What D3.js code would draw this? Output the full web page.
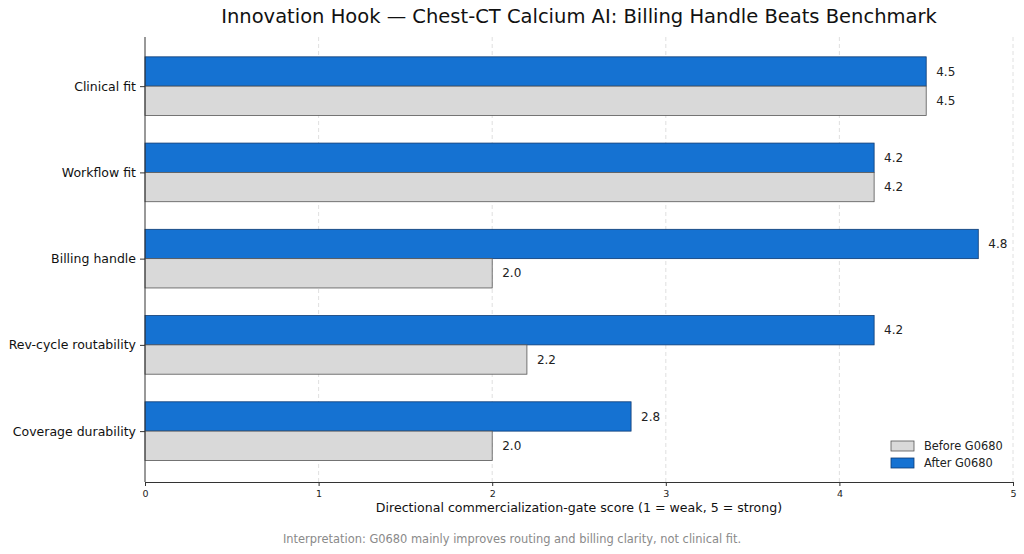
<!DOCTYPE html>
<html><head><meta charset="utf-8">
<script src="https://cdn.jsdelivr.net/npm/d3@7"></script>
<style>body{margin:0;background:#fff;} svg{display:block;font-family:"DejaVu Sans",sans-serif;}</style>
</head><body>
<svg id="c" width="1024" height="554"></svg>
<script>
const categories = ["Clinical fit","Workflow fit","Billing handle","Rev-cycle routability","Coverage durability"];
const before = [4.5, 4.2, 2.0, 2.2, 2.0];
const after = [4.5, 4.2, 4.8, 4.2, 2.8];
const xTicks = [0,1,2,3,4,5];
const seriesNames = ["Before G0680","After G0680"];
const colors = {before:"#d9d9d9", after:"#1572d2"};
const edges = {before:"#555555", after:"#0d3a73"};

const svg = d3.select("#c");
const L=145, R=1013, T=37, B=482;
const x = d3.scaleLinear().domain([0,5]).range([L,R]);
const y = d3.scaleLinear().domain([-0.57,4.59]).range([T,B]);
const bh = 0.34;
const pxh = Math.abs(y(bh)-y(0));

// grid
svg.append("g").selectAll("line").data(xTicks.slice(1)).join("line")
  .attr("x1",d=>x(d)).attr("x2",d=>x(d)).attr("y1",T).attr("y2",B)
  .attr("stroke","#d8d8d8").attr("stroke-dasharray","4,3").attr("stroke-width",0.8);

const g = svg.append("g");
categories.forEach((c,i)=>{
  g.append("rect").attr("x",x(0)).attr("y",y(i-bh)).attr("width",x(after[i])-x(0)).attr("height",pxh)
    .attr("fill",colors.after).attr("stroke",edges.after).attr("stroke-width",0.8);
  g.append("rect").attr("x",x(0)).attr("y",y(i)).attr("width",x(before[i])-x(0)).attr("height",pxh)
    .attr("fill",colors.before).attr("stroke",edges.before).attr("stroke-width",0.8);
  g.append("text").attr("x",x(after[i])+10).attr("y",y(i-bh/2)).attr("dy","0.35em")
    .attr("font-size",12).attr("fill","#222").text(after[i].toFixed(1));
  g.append("text").attr("x",x(before[i])+10).attr("y",y(i+bh/2)).attr("dy","0.35em")
    .attr("font-size",12).attr("fill","#222").text(before[i].toFixed(1));
});

// axes
const xa = svg.append("g").attr("transform",`translate(0,${B})`)
  .call(d3.axisBottom(x).tickValues(xTicks).tickFormat(d3.format("d")).tickSize(4).tickPadding(4));
xa.select(".domain").attr("stroke","#333").attr("stroke-width",1);
xa.selectAll(".tick line").attr("stroke","#333");
xa.selectAll("text").attr("font-size",9.5).attr("font-family","DejaVu Sans").attr("fill","#222");

const ya = svg.append("g").attr("transform",`translate(${L},0)`)
  .call(d3.axisLeft(y).tickValues(d3.range(categories.length)).tickFormat(i=>categories[i]).tickSize(5).tickPadding(4));
ya.select(".domain").attr("d",`M0,${T}V${B}`).attr("stroke","#333").attr("stroke-width",1);
ya.selectAll(".tick line").attr("stroke","#333");
ya.selectAll("text").attr("font-size",12.5).attr("font-family","DejaVu Sans").attr("fill","#111");

// title
svg.append("text").attr("x",(L+R)/2).attr("y",23).attr("text-anchor","middle")
  .attr("font-size",19.5).attr("fill","#111").text("Innovation Hook — Chest-CT Calcium AI: Billing Handle Beats Benchmark");
svg.append("text").attr("x",(L+R)/2).attr("y",512).attr("text-anchor","middle")
  .attr("font-size",12.6).attr("fill","#111").text("Directional commercialization-gate score (1 = weak, 5 = strong)");
svg.append("text").attr("x",512).attr("y",543).attr("text-anchor","middle")
  .attr("font-size",11.45).attr("fill","#8a8a8a").text("Interpretation: G0680 mainly improves routing and billing clarity, not clinical fit.");

// legend
const lg = svg.append("g").attr("transform","translate(891,441)");
[["before",seriesNames[0]],["after",seriesNames[1]]].forEach(([k,n],j)=>{
  lg.append("rect").attr("x",0).attr("y",j*17).attr("width",23).attr("height",10)
    .attr("fill",colors[k]).attr("stroke",edges[k]).attr("stroke-width",0.8);
  lg.append("text").attr("x",33).attr("y",j*17+5).attr("dy","0.35em").attr("font-size",11.4).attr("fill","#222").text(n);
});
</script>
</body></html>
